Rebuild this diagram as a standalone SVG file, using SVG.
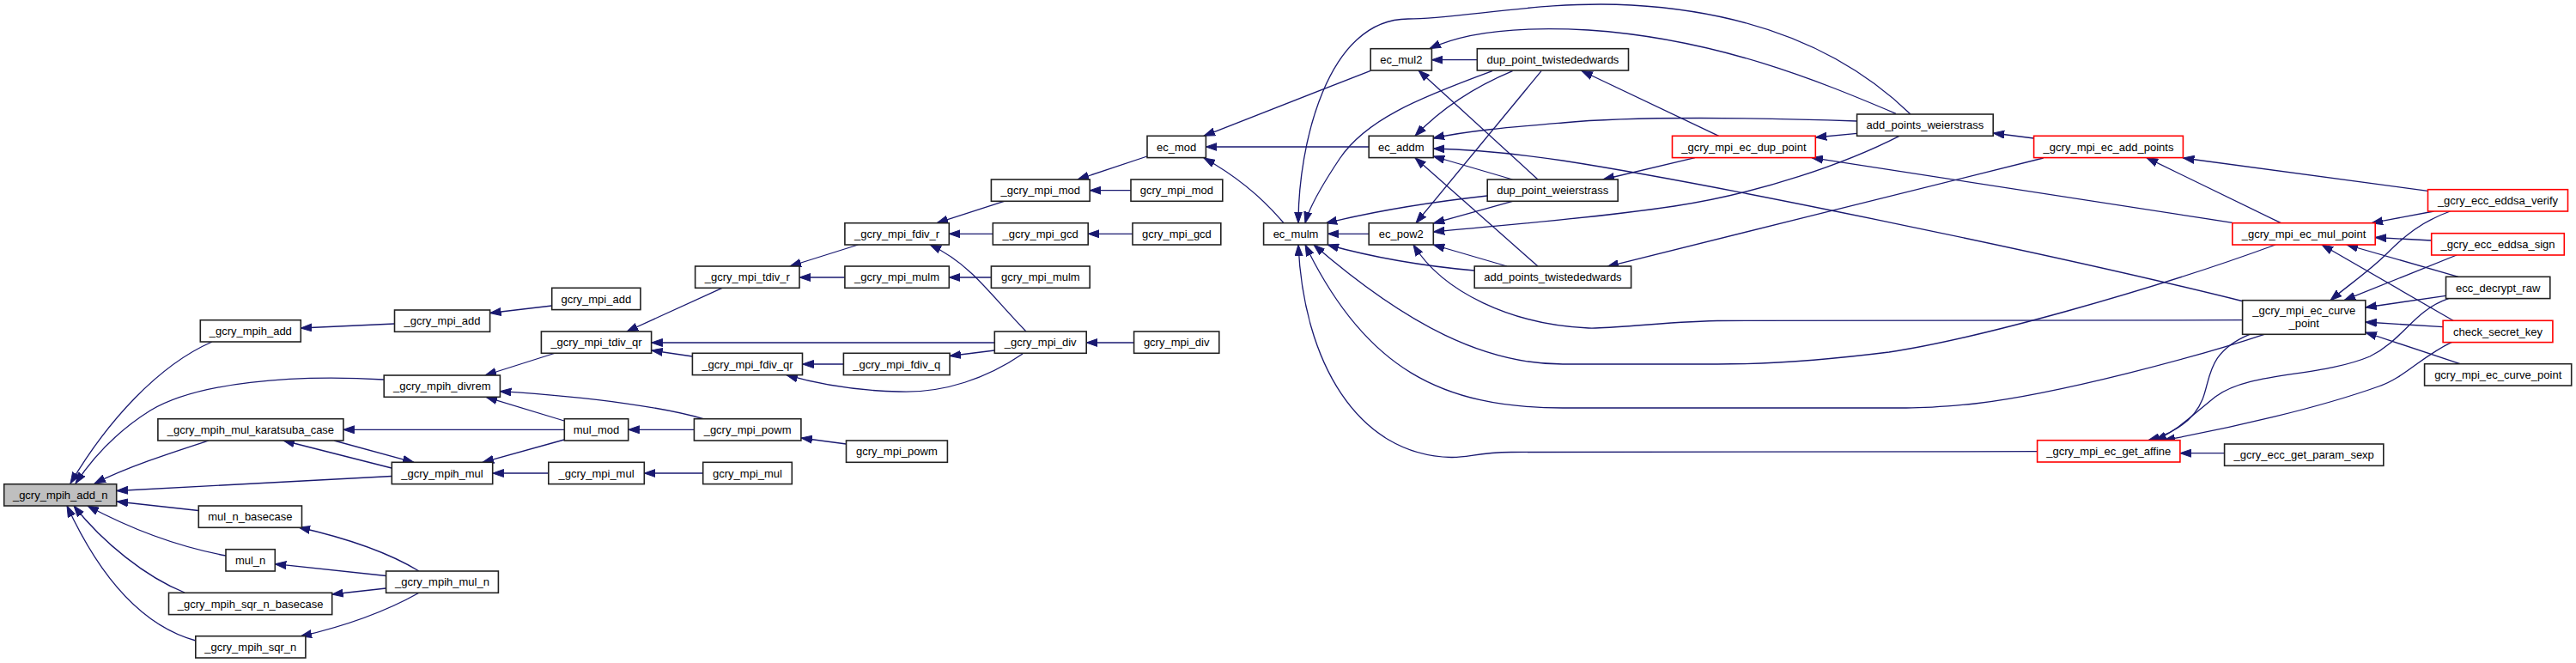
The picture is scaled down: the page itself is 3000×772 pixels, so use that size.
<svg xmlns="http://www.w3.org/2000/svg" width="3000" height="772" viewBox="0 0 3000 772">
<defs>
<marker id="ah" markerWidth="14" markerHeight="10" refX="13" refY="5" orient="auto" markerUnits="userSpaceOnUse">
<path d="M0,0.5 L13,5 L0,9.5 z" fill="#191970" stroke="#191970" stroke-width="1"/>
</marker>
<style>
.nd rect{fill:#fff;stroke:#222;stroke-width:1.6}
.rd rect{fill:#fff;stroke:#ff0000;stroke-width:1.6}
.root rect{fill:#bfbfbf;stroke:#222;stroke-width:1.6}
text{font-family:"Liberation Sans",Arial,Helvetica,sans-serif;font-size:13px;fill:#000;text-anchor:middle}
.e path{fill:none;stroke:#191970;stroke-width:1.3;marker-end:url(#ah)}
</style>
</defs>
<rect width="3000" height="772" fill="#fff"/>
<g class="e" id="edges">
<path d="M247,398 C185,425 125,490 82,563"/>
<path d="M447,442 C340,436 230,445 175,478 C135,503 108,533 88,563"/>
<path d="M243,513 C200,527 150,543 110,563"/>
<path d="M456,554.5 L136,571.5"/>
<path d="M231,594.5 L136,584"/>
<path d="M263,647 C215,638 160,620 102,589"/>
<path d="M215,690 C170,672 120,632 86,589"/>
<path d="M228,746 C170,730 120,680 78,589"/>
<path d="M459.5,377 L350.3,382"/>
<path d="M642.7,356 L570.6,364.5"/>
<path d="M647,411 L565,437"/>
<path d="M657,490 L566,462.3"/>
<path d="M819,487.7 C780,476 700,463 582.4,455.7"/>
<path d="M657.3,500.3 L399.8,500.3"/>
<path d="M456,545 L330,513"/>
<path d="M389,513 L482,538.3"/>
<path d="M657,512 L562,538.3"/>
<path d="M638.8,551 L573.7,551"/>
<path d="M818.7,551 L750.3,551"/>
<path d="M808.4,500.3 L731.7,500.3"/>
<path d="M985.5,517 L932.9,510"/>
<path d="M488,665 C455,645 410,628 348,614"/>
<path d="M449.6,670.5 L320.3,656.7"/>
<path d="M449.6,685 L386.7,692"/>
<path d="M488,690.3 C460,706 420,725 350,741"/>
<path d="M841,335.3 L730,386"/>
<path d="M1158.3,399 L758.6,399"/>
<path d="M806.4,415 L758.6,408"/>
<path d="M999.4,285 L920,310"/>
<path d="M983.9,323 L931,323"/>
<path d="M1154.4,323 L1105.3,323"/>
<path d="M1169.4,234.3 L1091,259.7"/>
<path d="M1156.3,272.3 L1105.3,272.3"/>
<path d="M1195,386 C1170,360 1145,330 1130,317 C1115,303 1100,293 1083,285"/>
<path d="M982.4,424 L934.5,424"/>
<path d="M1158.3,408 L1106,414.5"/>
<path d="M1191,412 C1150,440 1100,458 1047,456 C1000,455 955,448 916,436.7"/>
<path d="M1320.6,399 L1265.2,399"/>
<path d="M1317,221.7 L1269.2,221.7"/>
<path d="M1319,272.3 L1267.2,272.3"/>
<path d="M1336,182 L1255,209"/>
<path d="M1596.2,82.3 L1402,158.3"/>
<path d="M1594.2,171 L1404.4,171"/>
<path d="M1495,259.7 C1470,230 1440,205 1402,184"/>
<path d="M1720.3,69.7 L1667.4,69.7"/>
<path d="M1594.2,272.3 L1546.4,272.3"/>
<path d="M2225,133 C2160,70 2060,15 1900,6 C1800,0 1700,22 1640,22 C1545,22 1512,170 1512,259.7"/>
<path d="M1738,82.7 C1650,115 1590,140 1560,185 C1540,215 1525,240 1520,259.7"/>
<path d="M1732,228 C1660,236 1600,246 1544,260"/>
<path d="M1717,315 C1660,310 1600,300 1546,285"/>
<path d="M2650,285 C2500,340 2300,395 2200,410 C2120,420 2060,424 2000,424 L1820,424 C1730,424 1640,380 1530,285"/>
<path d="M2637,389.3 C2560,415 2400,458 2300,470 C2260,474 2240,475 2220,475 L1820,475 C1680,475 1590,430 1520,285"/>
<path d="M2372.6,525.7 L1760,526.5 C1720,527 1710,533 1690,532.5 C1580,530 1518,420 1512,285"/>
<path d="M2208,132.3 C2120,95 2000,45 1850,35 C1760,30 1700,40 1665,56.7"/>
<path d="M2162.6,141 C2050,137 1900,135 1820,143 C1760,148 1710,152 1669,161"/>
<path d="M2611,350.5 C2400,298 2000,215 1820,187 C1760,178 1710,174 1669.3,173"/>
<path d="M1761.5,82.7 C1720,100 1680,125 1648,158.3"/>
<path d="M1795,82.7 L1649,259.7"/>
<path d="M1791,209 L1652,82"/>
<path d="M1761.5,209 L1669.3,182"/>
<path d="M1761.5,234.3 L1669.3,260"/>
<path d="M2212,158.3 C2150,190 2050,225 1950,240 C1850,255 1750,262 1669.3,270"/>
<path d="M1791,310 L1648,183.7"/>
<path d="M1755,310 L1669.3,285"/>
<path d="M2611.6,372.7 L2000,373.5 C1930,375 1880,383 1850,382 C1760,378 1680,340 1646,285"/>
<path d="M2162.6,155.3 L2114.3,160"/>
<path d="M2001.7,158.3 L1842,82.5"/>
<path d="M1974,183.7 L1867,209"/>
<path d="M2368.6,161 L2321.2,155"/>
<path d="M2379.7,184 L1872,310.3"/>
<path d="M2827.5,222.3 L2542.4,184"/>
<path d="M2656.4,259.7 L2500,183.7"/>
<path d="M2599.8,259.3 L2110,183.7"/>
<path d="M2834.4,246 L2762,259.7"/>
<path d="M2831.7,280 L2766.2,276.5"/>
<path d="M2863,322.3 L2733,285"/>
<path d="M2857,373.3 L2704,285"/>
<path d="M2853.5,246 C2820,258 2800,275 2780,295 C2760,315 2735,332 2714,349.7"/>
<path d="M2861,297 L2730,349.7"/>
<path d="M2848.5,344.3 L2754.8,358"/>
<path d="M2845.1,380.7 L2754.8,375"/>
<path d="M2865,423.7 L2754.8,387"/>
<path d="M2620,389.3 C2570,410 2575,440 2565,465 C2555,490 2530,505 2502,512.7"/>
<path d="M2851.6,347.7 C2810,362 2800,395 2760,415 C2700,440 2620,432 2580,462 C2555,482 2535,502 2510,512.7"/>
<path d="M2855.4,398.3 C2820,415 2800,440 2770,450 C2700,475 2600,498 2520,512.7"/>
<path d="M2590.6,527.7 L2538.9,527.7"/>
</g>
<g id="n_add_n" class="root"><rect x="4.7" y="563.7" width="131" height="25.3"/><text x="70.2" y="580.9">_gcry_mpih_add_n</text></g>
<g id="n_mpih_add" class="nd"><rect x="233.3" y="372.7" width="117" height="25.3"/><text x="291.8" y="389.9">_gcry_mpih_add</text></g>
<g id="n_mpi_add" class="nd"><rect x="459.5" y="361" width="111.1" height="25.3"/><text x="515" y="378.2">_gcry_mpi_add</text></g>
<g id="n_gcry_mpi_add" class="nd"><rect x="642.7" y="335.3" width="103.2" height="25.3"/><text x="694.3" y="352.5">gcry_mpi_add</text></g>
<g id="n_divrem" class="nd"><rect x="447.2" y="437" width="135.2" height="25.3"/><text x="514.8" y="454.2">_gcry_mpih_divrem</text></g>
<g id="n_karatsuba" class="nd"><rect x="183.9" y="487.7" width="216" height="25.3"/><text x="291.9" y="504.9">_gcry_mpih_mul_karatsuba_case</text></g>
<g id="n_mpih_mul" class="nd"><rect x="456.3" y="538.3" width="117.4" height="25.3"/><text x="515" y="555.5">_gcry_mpih_mul</text></g>
<g id="n_mul_n_basecase" class="nd"><rect x="231.3" y="589" width="120.2" height="25.3"/><text x="291.4" y="606.2">mul_n_basecase</text></g>
<g id="n_mul_n" class="nd"><rect x="263" y="639.7" width="57.3" height="25.3"/><text x="291.6" y="656.9">mul_n</text></g>
<g id="n_mpih_mul_n" class="nd"><rect x="449.6" y="665" width="130.8" height="25.3"/><text x="515" y="682.2">_gcry_mpih_mul_n</text></g>
<g id="n_sqr_basecase" class="nd"><rect x="196.5" y="690.3" width="190.2" height="25.3"/><text x="291.6" y="707.5">_gcry_mpih_sqr_n_basecase</text></g>
<g id="n_sqr_n" class="nd"><rect x="227.8" y="740.7" width="128.1" height="25.3"/><text x="291.8" y="757.9">_gcry_mpih_sqr_n</text></g>
<g id="n_tdiv_qr" class="nd"><rect x="630.4" y="386" width="128.2" height="25.3"/><text x="694.5" y="403.2">_gcry_mpi_tdiv_qr</text></g>
<g id="n_mul_mod" class="nd"><rect x="657.3" y="487.7" width="74.4" height="25.3"/><text x="694.5" y="504.9">mul_mod</text></g>
<g id="n_mpi_mul" class="nd"><rect x="638.8" y="538.3" width="111.5" height="25.3"/><text x="694.5" y="555.5">_gcry_mpi_mul</text></g>
<g id="n_tdiv_r" class="nd"><rect x="809.6" y="310" width="121.4" height="25.3"/><text x="870.3" y="327.2">_gcry_mpi_tdiv_r</text></g>
<g id="n_fdiv_qr" class="nd"><rect x="806.4" y="411.3" width="128.1" height="25.3"/><text x="870.5" y="428.5">_gcry_mpi_fdiv_qr</text></g>
<g id="n_mpi_powm" class="nd"><rect x="808.4" y="487.7" width="124.5" height="25.3"/><text x="870.6" y="504.9">_gcry_mpi_powm</text></g>
<g id="n_gcry_mpi_mul" class="nd"><rect x="818.7" y="538.3" width="103.6" height="25.3"/><text x="870.5" y="555.5">gcry_mpi_mul</text></g>
<g id="n_fdiv_r" class="nd"><rect x="983.9" y="259.7" width="121.4" height="25.3"/><text x="1044.6" y="276.9">_gcry_mpi_fdiv_r</text></g>
<g id="n_mulm" class="nd"><rect x="983.9" y="310" width="121.4" height="25.3"/><text x="1044.6" y="327.2">_gcry_mpi_mulm</text></g>
<g id="n_fdiv_q" class="nd"><rect x="982.4" y="411.3" width="123.7" height="25.3"/><text x="1044.2" y="428.5">_gcry_mpi_fdiv_q</text></g>
<g id="n_gcry_powm" class="nd"><rect x="985.5" y="513" width="117.9" height="25.3"/><text x="1044.4" y="530.2">gcry_mpi_powm</text></g>
<g id="n_mpi_mod" class="nd"><rect x="1154.4" y="209" width="114.8" height="25.3"/><text x="1211.8" y="226.2">_gcry_mpi_mod</text></g>
<g id="n_mpi_gcd" class="nd"><rect x="1156.3" y="259.7" width="110.9" height="25.3"/><text x="1211.7" y="276.9">_gcry_mpi_gcd</text></g>
<g id="n_gcry_mulm" class="nd"><rect x="1154.4" y="310" width="114.8" height="25.3"/><text x="1211.8" y="327.2">gcry_mpi_mulm</text></g>
<g id="n_mpi_div" class="nd"><rect x="1158.3" y="386" width="106.9" height="25.3"/><text x="1211.7" y="403.2">_gcry_mpi_div</text></g>
<g id="n_ec_mod" class="nd"><rect x="1336" y="158.3" width="68.4" height="25.3"/><text x="1370.2" y="175.5">ec_mod</text></g>
<g id="n_gcry_mod" class="nd"><rect x="1317" y="209" width="106.8" height="25.3"/><text x="1370.4" y="226.2">gcry_mpi_mod</text></g>
<g id="n_gcry_gcd" class="nd"><rect x="1319" y="259.7" width="102.8" height="25.3"/><text x="1370.4" y="276.9">gcry_mpi_gcd</text></g>
<g id="n_gcry_div" class="nd"><rect x="1320.6" y="386" width="99.2" height="25.3"/><text x="1370.2" y="403.2">gcry_mpi_div</text></g>
<g id="n_ec_mulm" class="nd"><rect x="1471.6" y="259.7" width="74.8" height="25.3"/><text x="1509" y="276.9">ec_mulm</text></g>
<g id="n_ec_mul2" class="nd"><rect x="1596.2" y="56.7" width="71.2" height="25.3"/><text x="1631.8" y="73.9">ec_mul2</text></g>
<g id="n_ec_addm" class="nd"><rect x="1594.2" y="158.3" width="75.1" height="25.3"/><text x="1631.8" y="175.5">ec_addm</text></g>
<g id="n_ec_pow2" class="nd"><rect x="1594.2" y="259.7" width="75.1" height="25.3"/><text x="1631.8" y="276.9">ec_pow2</text></g>
<g id="n_dup_te" class="nd"><rect x="1720.3" y="56.7" width="176.2" height="25.3"/><text x="1808.4" y="73.9">dup_point_twistededwards</text></g>
<g id="n_dup_w" class="nd"><rect x="1732.2" y="209" width="152" height="25.3"/><text x="1808.2" y="226.2">dup_point_weierstrass</text></g>
<g id="n_add_te" class="nd"><rect x="1717.2" y="310" width="182.4" height="25.3"/><text x="1808.4" y="327.2">add_points_twistededwards</text></g>
<g id="n_ec_dup" class="rd"><rect x="1947.5" y="158.3" width="166.8" height="25.3"/><text x="2030.9" y="175.5">_gcry_mpi_ec_dup_point</text></g>
<g id="n_add_w" class="nd"><rect x="2162.6" y="133" width="158.6" height="25.3"/><text x="2241.9" y="150.2">add_points_weierstrass</text></g>
<g id="n_ec_add" class="rd"><rect x="2368.6" y="158.3" width="173.8" height="25.3"/><text x="2455.5" y="175.5">_gcry_mpi_ec_add_points</text></g>
<g id="n_get_affine" class="rd"><rect x="2372.6" y="512.7" width="166.3" height="25.3"/><text x="2455.8" y="529.9">_gcry_mpi_ec_get_affine</text></g>
<g id="n_mul_point" class="rd"><rect x="2599.8" y="259.7" width="166.4" height="25.3"/><text x="2683" y="276.9">_gcry_mpi_ec_mul_point</text></g>
<g id="n_curve_point" class="nd"><rect x="2611.6" y="349.7" width="143.2" height="39.6"/><text x="2683.2" y="366.2">_gcry_mpi_ec_curve</text><text x="2683.2" y="380.5">_point</text></g>
<g id="n_param_sexp" class="nd"><rect x="2590.6" y="517" width="185.2" height="25.3"/><text x="2683.2" y="534.2">_gcry_ecc_get_param_sexp</text></g>
<g id="n_verify" class="rd"><rect x="2827.5" y="220.7" width="163" height="25.3"/><text x="2909" y="237.9">_gcry_ecc_eddsa_verify</text></g>
<g id="n_sign" class="rd"><rect x="2831.7" y="271.7" width="154.6" height="25.3"/><text x="2909" y="288.9">_gcry_ecc_eddsa_sign</text></g>
<g id="n_decrypt" class="nd"><rect x="2848.5" y="322.3" width="121.3" height="25.3"/><text x="2909.2" y="339.5">ecc_decrypt_raw</text></g>
<g id="n_check" class="rd"><rect x="2845.1" y="373.3" width="127.8" height="25.3"/><text x="2909" y="390.5">check_secret_key</text></g>
<g id="n_gcry_curve" class="nd"><rect x="2823.6" y="423.7" width="171.1" height="25.3"/><text x="2909.2" y="440.9">gcry_mpi_ec_curve_point</text></g>
</svg>
